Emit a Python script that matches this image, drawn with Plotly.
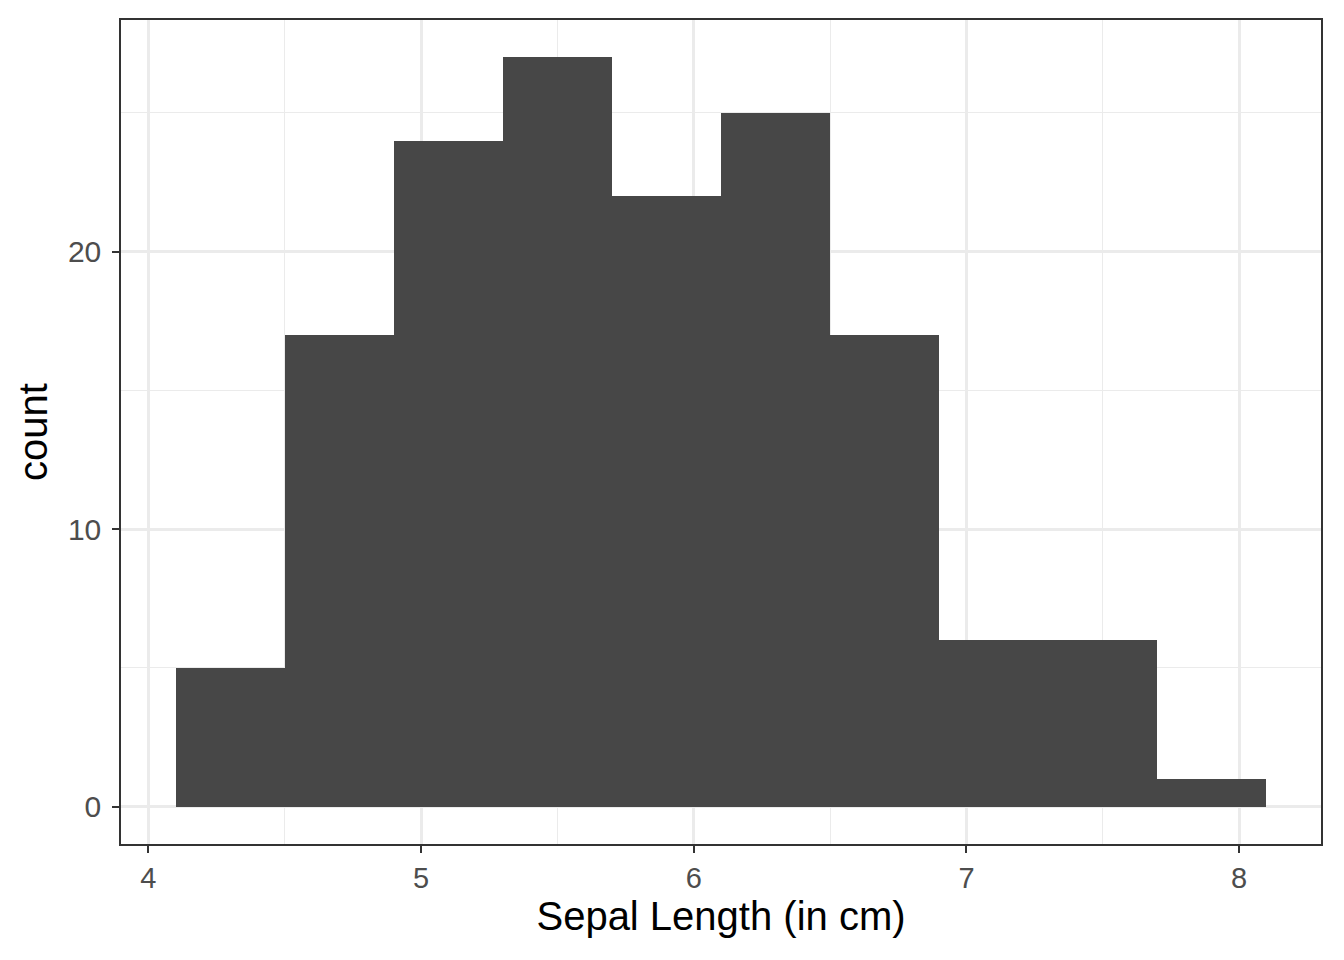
import plotly.graph_objects as go

bin_left = [4.1, 4.5, 4.9, 5.3, 5.7, 6.1, 6.5, 6.9, 7.3, 7.7]
counts = [5, 17, 24, 27, 22, 25, 17, 6, 6, 1]
binwidth = 0.4
x_ticks = [4, 5, 6, 7, 8]
y_ticks = [0, 10, 20]

centers = [b + binwidth / 2 for b in bin_left]

fig = go.Figure(go.Bar(
    x=centers, y=counts, width=[binwidth] * len(counts),
    marker=dict(color="#474747", line=dict(width=0)),
))

font = "Liberation Sans, Arial, Helvetica, sans-serif"
fig.update_layout(
    width=1336, height=952,
    margin=dict(l=113, r=23, t=10, b=116),
    plot_bgcolor="white", paper_bgcolor="white",
    showlegend=False, bargap=0,
    font=dict(family=font),
)
fig.update_xaxes(
    range=[3.9, 8.3], tickvals=x_ticks, ticktext=[str(v) for v in x_ticks],
    showgrid=True, gridcolor="#EBEBEB", gridwidth=2.7,
    minor=dict(showgrid=True, gridcolor="#EBEBEB", gridwidth=1.3, dtick=0.5, tick0=4.5),
    ticks="outside", ticklen=7, tickwidth=2.2, tickcolor="#333333",
    tickfont=dict(size=29, color="#4D4D4D"),
    showline=True, linecolor="#333333", linewidth=1.5, mirror=True,
    zeroline=False,
    title=dict(text="Sepal Length (in cm)", font=dict(size=40, color="black"), standoff=4),
)
fig.update_yaxes(
    range=[-1.35, 28.35], tickvals=y_ticks, ticktext=[str(v) for v in y_ticks],
    showgrid=True, gridcolor="#EBEBEB", gridwidth=2.7,
    minor=dict(showgrid=True, gridcolor="#EBEBEB", gridwidth=1.3, dtick=10, tick0=5),
    ticks="outside", ticklen=7, tickwidth=2.2, tickcolor="#333333",
    tickfont=dict(size=30, color="#4D4D4D"),
    ticklabelstandoff=5,
    showline=True, linecolor="#333333", linewidth=1.5, mirror=True,
    zeroline=False,
    title=dict(text="count", font=dict(size=40, color="black"), standoff=8),
)

fig.write_html("out.html")
